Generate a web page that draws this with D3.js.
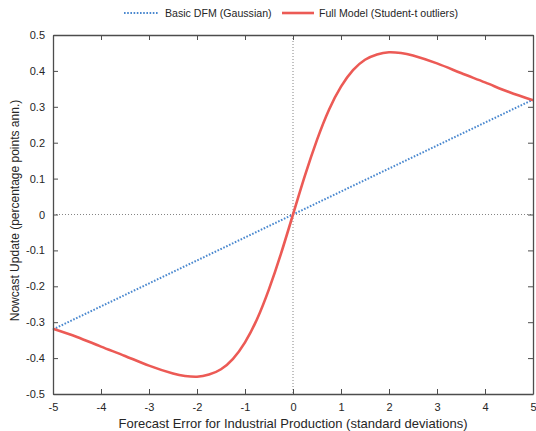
<!DOCTYPE html>
<html>
<head>
<meta charset="utf-8">
<script src="https://cdn.jsdelivr.net/npm/d3@7"></script>
<style>
  body { margin: 0; background: #fff; }
  svg text { font-family: "Liberation Sans", Arial, sans-serif; fill: #262626; }
</style>
</head>
<body>
<div id="chart"></div>
<script>
// values
const xs = [-5, -4.5, -4, -3.5, -3, -2.5, -2.25, -2, -1.75, -1.5, -1.25, -1, -0.75, -0.5, -0.25,
    0, 0.25, 0.5, 0.75, 1, 1.25, 1.5, 1.75, 2, 2.25, 2.5, 3, 3.5, 4, 4.5, 5];
const fullModel = [-0.318, -0.341, -0.368, -0.394, -0.421, -0.443, -0.450, -0.452, -0.446, -0.431, -0.402, -0.356, -0.292, -0.208, -0.109,
    0, 0.109, 0.208, 0.292, 0.356, 0.402, 0.431, 0.446, 0.452, 0.450, 0.443, 0.421, 0.394, 0.368, 0.341, 0.318];
const basicX = [-5, 5];
const basicDFM = [-0.32, 0.32];
const xTicks = [-5, -4, -3, -2, -1, 0, 1, 2, 3, 4, 5];
const yTicks = [-0.5, -0.4, -0.3, -0.2, -0.1, 0, 0.1, 0.2, 0.3, 0.4, 0.5];

const width = 536;
const height = 431;
const margin = { top: 35, bottom: 37, left: 53, right: 3 };

const svg = d3.select("#chart")
    .append("svg")
    .attr("width", width)
    .attr("height", height);

const x = d3.scaleLinear()
    .domain([-5, 5])
    .range([margin.left, width - margin.right]);

const y = d3.scaleLinear()
    .domain([-0.5, 0.5])
    .range([height - margin.bottom, margin.top]);

const axisColor = "#4d4d4d";

// zero reference lines
svg.append("line")
    .attr("x1", x(0)).attr("x2", x(0))
    .attr("y1", y(0.5)).attr("y2", y(-0.5))
    .attr("stroke", "#666").attr("stroke-width", 0.8)
    .attr("stroke-dasharray", "1,2");
svg.append("line")
    .attr("x1", x(-5)).attr("x2", x(5))
    .attr("y1", y(0)).attr("y2", y(0))
    .attr("stroke", "#666").attr("stroke-width", 0.8)
    .attr("stroke-dasharray", "1,2");

// series
svg.append("path")
    .datum(basicDFM)
    .attr("fill", "none")
    .attr("stroke", "#4a88cf")
    .attr("stroke-width", 2)
    .attr("stroke-dasharray", "1.6,1.6")
    .attr("d", d3.line().x((d, i) => x(basicX[i])).y(d => y(d)));

svg.append("path")
    .datum(fullModel)
    .attr("fill", "none")
    .attr("stroke", "#ec5a55")
    .attr("stroke-width", 2.6)
    .attr("d", d3.line().x((d, i) => x(xs[i])).y(d => y(d)).curve(d3.curveNatural));

// axes (box with inward ticks)
function styleAxis(g) {
    g.selectAll(".domain").attr("stroke", axisColor).attr("stroke-width", 1.3);
    g.selectAll(".tick line").attr("stroke", axisColor).attr("stroke-width", 1);
    g.selectAll("text").attr("font-size", "11px").attr("fill", "#262626")
        .attr("font-family", "Liberation Sans, Arial, sans-serif");
}

svg.append("g")
    .attr("transform", `translate(0, ${y(-0.5)})`)
    .call(d3.axisBottom(x).tickValues(xTicks).tickSizeInner(-5).tickSizeOuter(0).tickPadding(9).tickFormat(d3.format("d")))
    .call(styleAxis);

svg.append("g")
    .attr("transform", `translate(0, ${y(0.5)})`)
    .call(d3.axisTop(x).tickValues(xTicks).tickSizeInner(-5).tickSizeOuter(0).tickFormat(""))
    .call(styleAxis);

svg.append("g")
    .attr("transform", `translate(${x(-5)}, 0)`)
    .call(d3.axisLeft(y).tickValues(yTicks).tickSizeInner(-5).tickSizeOuter(0).tickPadding(8).tickFormat(d => d === 0 ? "0" : d3.format(".1f")(d)))
    .call(styleAxis);

svg.append("g")
    .attr("transform", `translate(${x(5)}, 0)`)
    .call(d3.axisRight(y).tickValues(yTicks).tickSizeInner(-5).tickSizeOuter(0).tickFormat(""))
    .call(styleAxis);

svg.selectAll(".tick text").text(function() { return this.textContent.replace("−", "-"); });

// axis titles
svg.append("text")
    .attr("x", x(0))
    .attr("y", 428)
    .attr("text-anchor", "middle")
    .attr("font-size", "13px")
    .text("Forecast Error for Industrial Production (standard deviations)");

svg.append("text")
    .attr("transform", `translate(19, ${y(0) - 4}) rotate(-90)`)
    .attr("text-anchor", "middle")
    .attr("font-size", "12px")
    .text("Nowcast Update (percentage points ann.)");

// legend
const legend = svg.append("g").attr("transform", "translate(0, 13)");
legend.append("line")
    .attr("x1", 124).attr("x2", 159).attr("y1", 0).attr("y2", 0)
    .attr("stroke", "#4a88cf").attr("stroke-width", 2).attr("stroke-dasharray", "1.6,1.6");
legend.append("text").attr("x", 165).attr("y", 4).attr("font-size", "10.6px").text("Basic DFM (Gaussian)");
legend.append("line")
    .attr("x1", 282).attr("x2", 314).attr("y1", 0).attr("y2", 0)
    .attr("stroke", "#ec5a55").attr("stroke-width", 2.6);
legend.append("text").attr("x", 319).attr("y", 4).attr("font-size", "10.6px").text("Full Model (Student-t outliers)");
</script>
</body>
</html>
